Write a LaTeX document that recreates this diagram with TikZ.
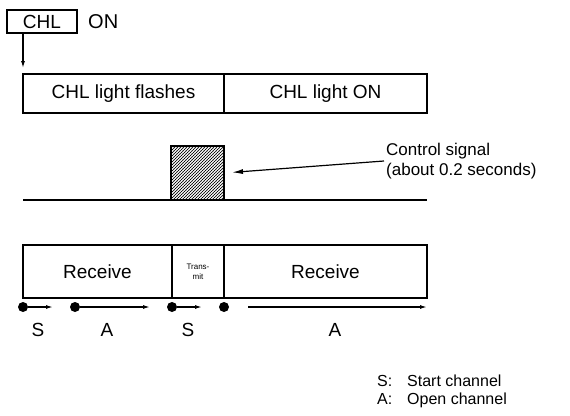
\documentclass[tikz,border=0pt]{standalone}
\usepackage{fontspec}
\setmainfont{Liberation Sans}
\usetikzlibrary{arrows.meta, positioning, patterns}

\tikzset{
  cell/.style={
    rectangle, draw, line width=1.5pt, outer sep=0pt, inner sep=0pt,
    align=center, font=\fontsize{19}{22}\selectfont
  },
  lbl/.style={font=\fontsize{19}{22}\selectfont, inner sep=1pt},
  keytext/.style={font=\fontsize{16}{18}\selectfont, inner sep=0pt, anchor=west},
  dot/.style={circle, fill, inner sep=0pt, minimum size=10pt},
  flow/.style={-{Latex[length=7pt,width=4pt]}, line width=1.3pt}
}

\begin{document}
\begin{tikzpicture}[x=1pt, y=1pt]
  \useasboundingbox (0,0) rectangle (570,-415);
  % CHL key
  \node[cell, minimum width=70pt, minimum height=23pt] (chl) at (42,-21.5) {CHL};
  \node[lbl, font=\fontsize{20}{22}\selectfont, right=10pt of chl] (on) {ON};
  % Light state
  \node[cell, minimum width=201pt, minimum height=39pt] (flash) at (123.5,-93.5)
    {CHL light flashes};
  \node[cell, minimum width=203pt, minimum height=39pt, right=0pt of flash] (lighton)
    {CHL light ON};
  \draw[-{Latex[length=7pt,width=4pt]}, line width=1.2pt, shorten >=6pt]
    (chl.south -| flash.north west) -- (flash.north west);
  % Control signal
  \node[cell, pattern=crosshatch dots, postaction={pattern=north east lines},
        minimum width=53pt, minimum height=54pt] (sig) at (197.5,-173) {};
  \coordinate (base0) at (23,-200);
  \coordinate (base1) at (427,-200);
  \draw[line width=1.5pt] (base0) -- (base1);
  \node[font=\fontsize{17}{20}\selectfont, align=left, anchor=west, inner sep=2pt]
    (ctrl) at (384,-161) {Control signal\\(about 0.2 seconds)};
  \draw[-{Latex[length=11pt,width=5pt]}, line width=1.2pt, shorten >=8pt]
    (ctrl.west) -- (sig.east);
  % Receive / transmit
  \node[cell, minimum width=149pt, minimum height=53pt] (recv1) at (97.5,-271.5) {Receive};
  \node[cell, minimum width=52pt, minimum height=53pt, right=0pt of recv1,
        font=\fontsize{8}{10}\selectfont] (trans) {Trans-\\mit};
  \node[cell, minimum width=203pt, minimum height=53pt, right=0pt of trans] (recv2)
    {Receive};
  % Channels
  \node[dot] (d1) at (23,-307) {};
  \node[dot] (d2) at (75,-307) {};
  \node[dot] (d3) at (172,-307) {};
  \node[dot] (d4) at (224,-307) {};
  \coordinate (e1) at (53,-307);
  \coordinate (e2) at (150,-307);
  \coordinate (e3) at (202,-307);
  \coordinate (f4) at (248,-307);
  \coordinate (e4) at (427,-307);
  \draw[flow] (d1) -- (e1);
  \draw[flow] (d2) -- (e2);
  \draw[flow] (d3) -- (e3);
  \draw[flow] (f4) -- (e4);
  \node[lbl] (s1) at (38,-330) {S};
  \node[lbl] (a1) at (107,-330) {A};
  \node[lbl] (s2) at (188,-330) {S};
  \node[lbl] (a2) at (335,-330) {A};
  % Legend
  \node[keytext] (keys) at (377,-381) {\makebox[30pt][l]{S:}Start channel};
  \node[keytext] (keya) at (377,-400) {\makebox[30pt][l]{A:}Open channel};
\end{tikzpicture}
\end{document}
